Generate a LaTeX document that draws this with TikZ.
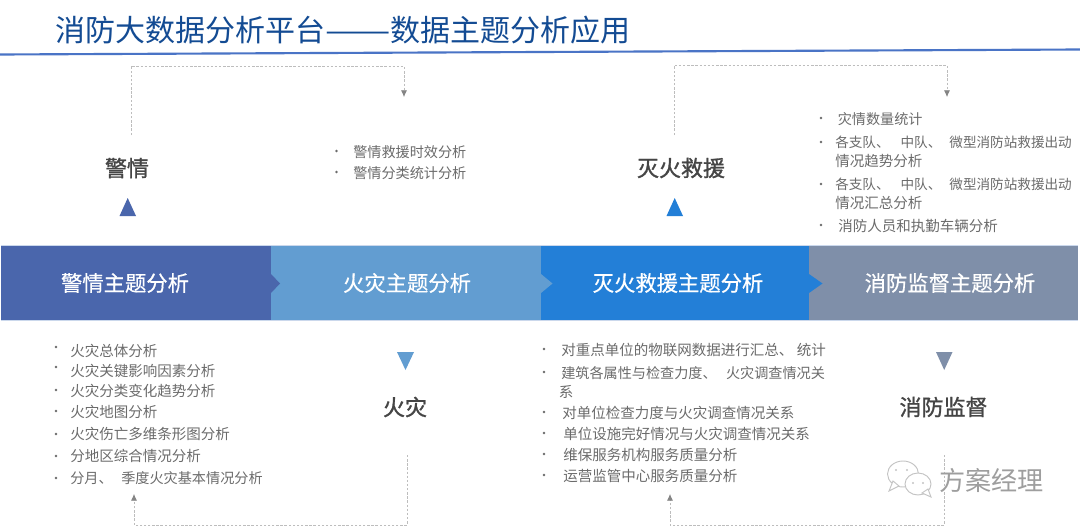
\documentclass[tikz,border=0pt]{standalone}
\usepackage{fontspec}
\usepackage{graphicx}
\usetikzlibrary{arrows.meta}
\setmainfont{Noto Sans CJK SC}
\newfontfamily\cjkmed[FakeBold=0.5]{Noto Sans CJK SC}
\newfontfamily\cjkbold[FakeBold=1.2]{Noto Sans CJK SC}
\definecolor{barA}{HTML}{4A66AC}
\definecolor{barB}{HTML}{629DD1}
\definecolor{barC}{HTML}{237FD7}
\definecolor{barD}{HTML}{7F8FA9}
\definecolor{edgeC}{HTML}{CBD8EC}
\definecolor{titleC}{HTML}{134B93}
\definecolor{ruleC}{HTML}{4A74C6}
\definecolor{itemC}{HTML}{6B6B6B}
\definecolor{headC}{HTML}{454545}
\definecolor{dashC}{HTML}{BDBDBD}
\definecolor{tipC}{HTML}{858585}
\definecolor{markC}{HTML}{C4C4C4}
\newcommand{\bul}[2]{\fill[itemC] (#1,#2) circle (1.4);}
\newcommand{\tightline}{\fontsize{10.2pt}{12pt}\selectfont}
\newcommand{\narrowline}{\fontsize{10.6pt}{12pt}\selectfont}
\tikzset{
  x=0.75pt,y=-0.75pt,
  itemtext/.style={anchor=west,inner sep=0pt,yshift=-0.5pt,text=itemC,font=\fontsize{10.88pt}{12pt}\selectfont},
  headtext/.style={inner sep=0pt,text=headC,font=\cjkbold\fontsize{16.5pt}{18pt}\selectfont},
  bartext/.style={inner sep=0pt,text=white,font=\cjkmed\fontsize{16pt}{18pt}\selectfont},
  flow/.style={draw=dashC,line width=0.5pt,dash pattern=on 1.8pt off 1.3pt},
  flowtip/.style={flow,-{Latex[length=5pt,width=4.5pt,color=tipC,fill=tipC]}},
  bubble/.style={draw=markC,line width=0.7pt,fill=white},
}
\begin{document}
\begin{tikzpicture}
\useasboundingbox (0,0) rectangle (1080,528);
\fill[white] (0,0) rectangle (1080,528);
% title
\node[anchor=west,inner sep=0pt,text=titleC,font=\fontsize{22.5pt}{26pt}\selectfont] (title) at (55,30) {消防大数据分析平台\scalebox{1.3}[1]{——}数据主题分析应用};
\coordinate (ruleL) at (0,54.5);
\coordinate (ruleR) at (1080,49.5);
\draw[ruleC,line width=1.6pt] (ruleL) -- (ruleR);
% bars
\fill[barA] (1,246) rectangle (271,320);
\fill[barB] (271,246) rectangle (541,320);
\fill[barC] (541,246) rectangle (809,320);
\fill[barD] (809,246) rectangle (1078,320);
\draw[edgeC,line width=0.5pt] (1,245.7) -- (1078,245.7) (1,320.3) -- (1078,320.3);
\fill[barA] (271,274) -- (280,283.5) -- (271,293) -- cycle;
\fill[barB] (541,274) -- (552.5,283.5) -- (541,293) -- cycle;
\fill[barC] (809,274) -- (822.5,283.5) -- (809,293) -- cycle;
\node[bartext] (barjq) at (125,283) {警情主题分析};
\node[bartext] (barhz) at (407,283) {火灾主题分析};
\node[bartext] (barmh) at (678,283) {灭火救援主题分析};
\node[bartext] (barjd) at (950,283) {消防监督主题分析};
% heads
\node[headtext] (hjq) at (127,168) {警情};
\node[headtext] (hmh) at (681,168) {灭火救援};
\node[headtext] (hhz) at (405,407) {火灾};
\node[headtext] (hjd) at (943.5,407) {消防监督};
% triangles
\fill[barA] (119.5,216) -- (136,216) -- (127.7,198) -- cycle;
\fill[barC] (666.5,216) -- (683,216) -- (674.7,198) -- cycle;
\fill[barB] (397,352) -- (414,352) -- (405.5,370) -- cycle;
\fill[barD] (936,352) -- (952.5,352) -- (944.2,370) -- cycle;
% lists
\bul{336.5}{151}\node[itemtext] (a1) at (353,151) {\narrowline 警情救援时效分析};
\bul{336.5}{172}\node[itemtext] (a2) at (353,172) {\narrowline 警情分类统计分析};
\bul{821}{118}\node[itemtext] (b1) at (837.5,118) {\narrowline 灾情数量统计};
\bul{821}{142}\node[itemtext] (b2) at (835,142) {\tightline 各支队、\hspace{8.2pt}中队、\hspace{6pt}微型消防站救援出动};
\node[itemtext] (b3) at (835,160) {情况趋势分析};
\bul{821}{184}\node[itemtext] (b4) at (835,184) {\tightline 各支队、\hspace{8.2pt}中队、\hspace{6pt}微型消防站救援出动};
\node[itemtext] (b5) at (835,202) {情况汇总分析};
\bul{821}{225}\node[itemtext] (b6) at (838,225) {消防人员和执勤车辆分析};
\bul{56}{347}\node[itemtext] (c1) at (70,350) {火灾总体分析};
\bul{56}{367}\node[itemtext] (c2) at (70,370) {火灾关键影响因素分析};
\bul{56}{390}\node[itemtext] (c3) at (70,390) {火灾分类变化趋势分析};
\bul{56}{411}\node[itemtext] (c4) at (70,411) {火灾地图分析};
\bul{56}{434}\node[itemtext] (c5) at (70,433) {火灾伤亡多维条形图分析};
\bul{56}{456}\node[itemtext] (c6) at (70,455) {分地区综合情况分析};
\bul{56}{478}\node[itemtext] (c7) at (70,477) {\narrowline 分月、\hspace{6.5pt}季度火灾基本情况分析};
\bul{544}{349}\node[itemtext] (d1) at (561,349) {对重点单位的物联网数据进行汇总、\hspace{2.6pt}统计};
\bul{544}{372}\node[itemtext] (d2) at (561,372) {\narrowline 建筑各属性与检查力度、\hspace{7pt}火灾调查情况关};
\node[itemtext] (d3) at (558.5,391) {系};
\bul{544}{412}\node[itemtext] (d4) at (562,412) {对单位检查力度与火灾调查情况关系};
\bul{544}{433}\node[itemtext] (d5) at (563,433) {单位设施完好情况与火灾调查情况关系};
\bul{544}{454}\node[itemtext] (d6) at (563,454) {维保服务机构服务质量分析};
\bul{544}{475}\node[itemtext] (d7) at (563,475) {运营监管中心服务质量分析};
% connectors
\coordinate (s1) at (131,135);\coordinate (e1) at (404,97);
\coordinate (s2) at (674,135);\coordinate (e2) at (947,97);
\coordinate (s3) at (407,455);\coordinate (e3) at (134,494);
\coordinate (s4) at (944,455);\coordinate (e4) at (670,494);
\draw[flowtip] (s1) |- (404,66) -- (e1);
\draw[flowtip] (s2) |- (947,65.5) -- (e2);
\draw[flowtip] (s3) |- (134,525) -- (e3);
\draw[flowtip] (s4) |- (670,525) -- (e4);
% watermark
\path[bubble] (903,474) ellipse (15.5 and 13);
\path[bubble] (889,491) -- (893,481) -- (899,486) -- cycle;
\path[bubble] (918,484) ellipse (13 and 11);
\path[bubble] (931,497) -- (922,493) -- (928,489) -- cycle;
\fill[markC] (896,470) circle (1.1) (907,470) circle (1.1) (913,483) circle (1.1) (923,483) circle (1.1);
\node[anchor=west,inner sep=0pt,text=black!38,font=\fontsize{19.6pt}{22pt}\selectfont] (mark) at (939,481) {方案经理};
\end{tikzpicture}
\end{document}
